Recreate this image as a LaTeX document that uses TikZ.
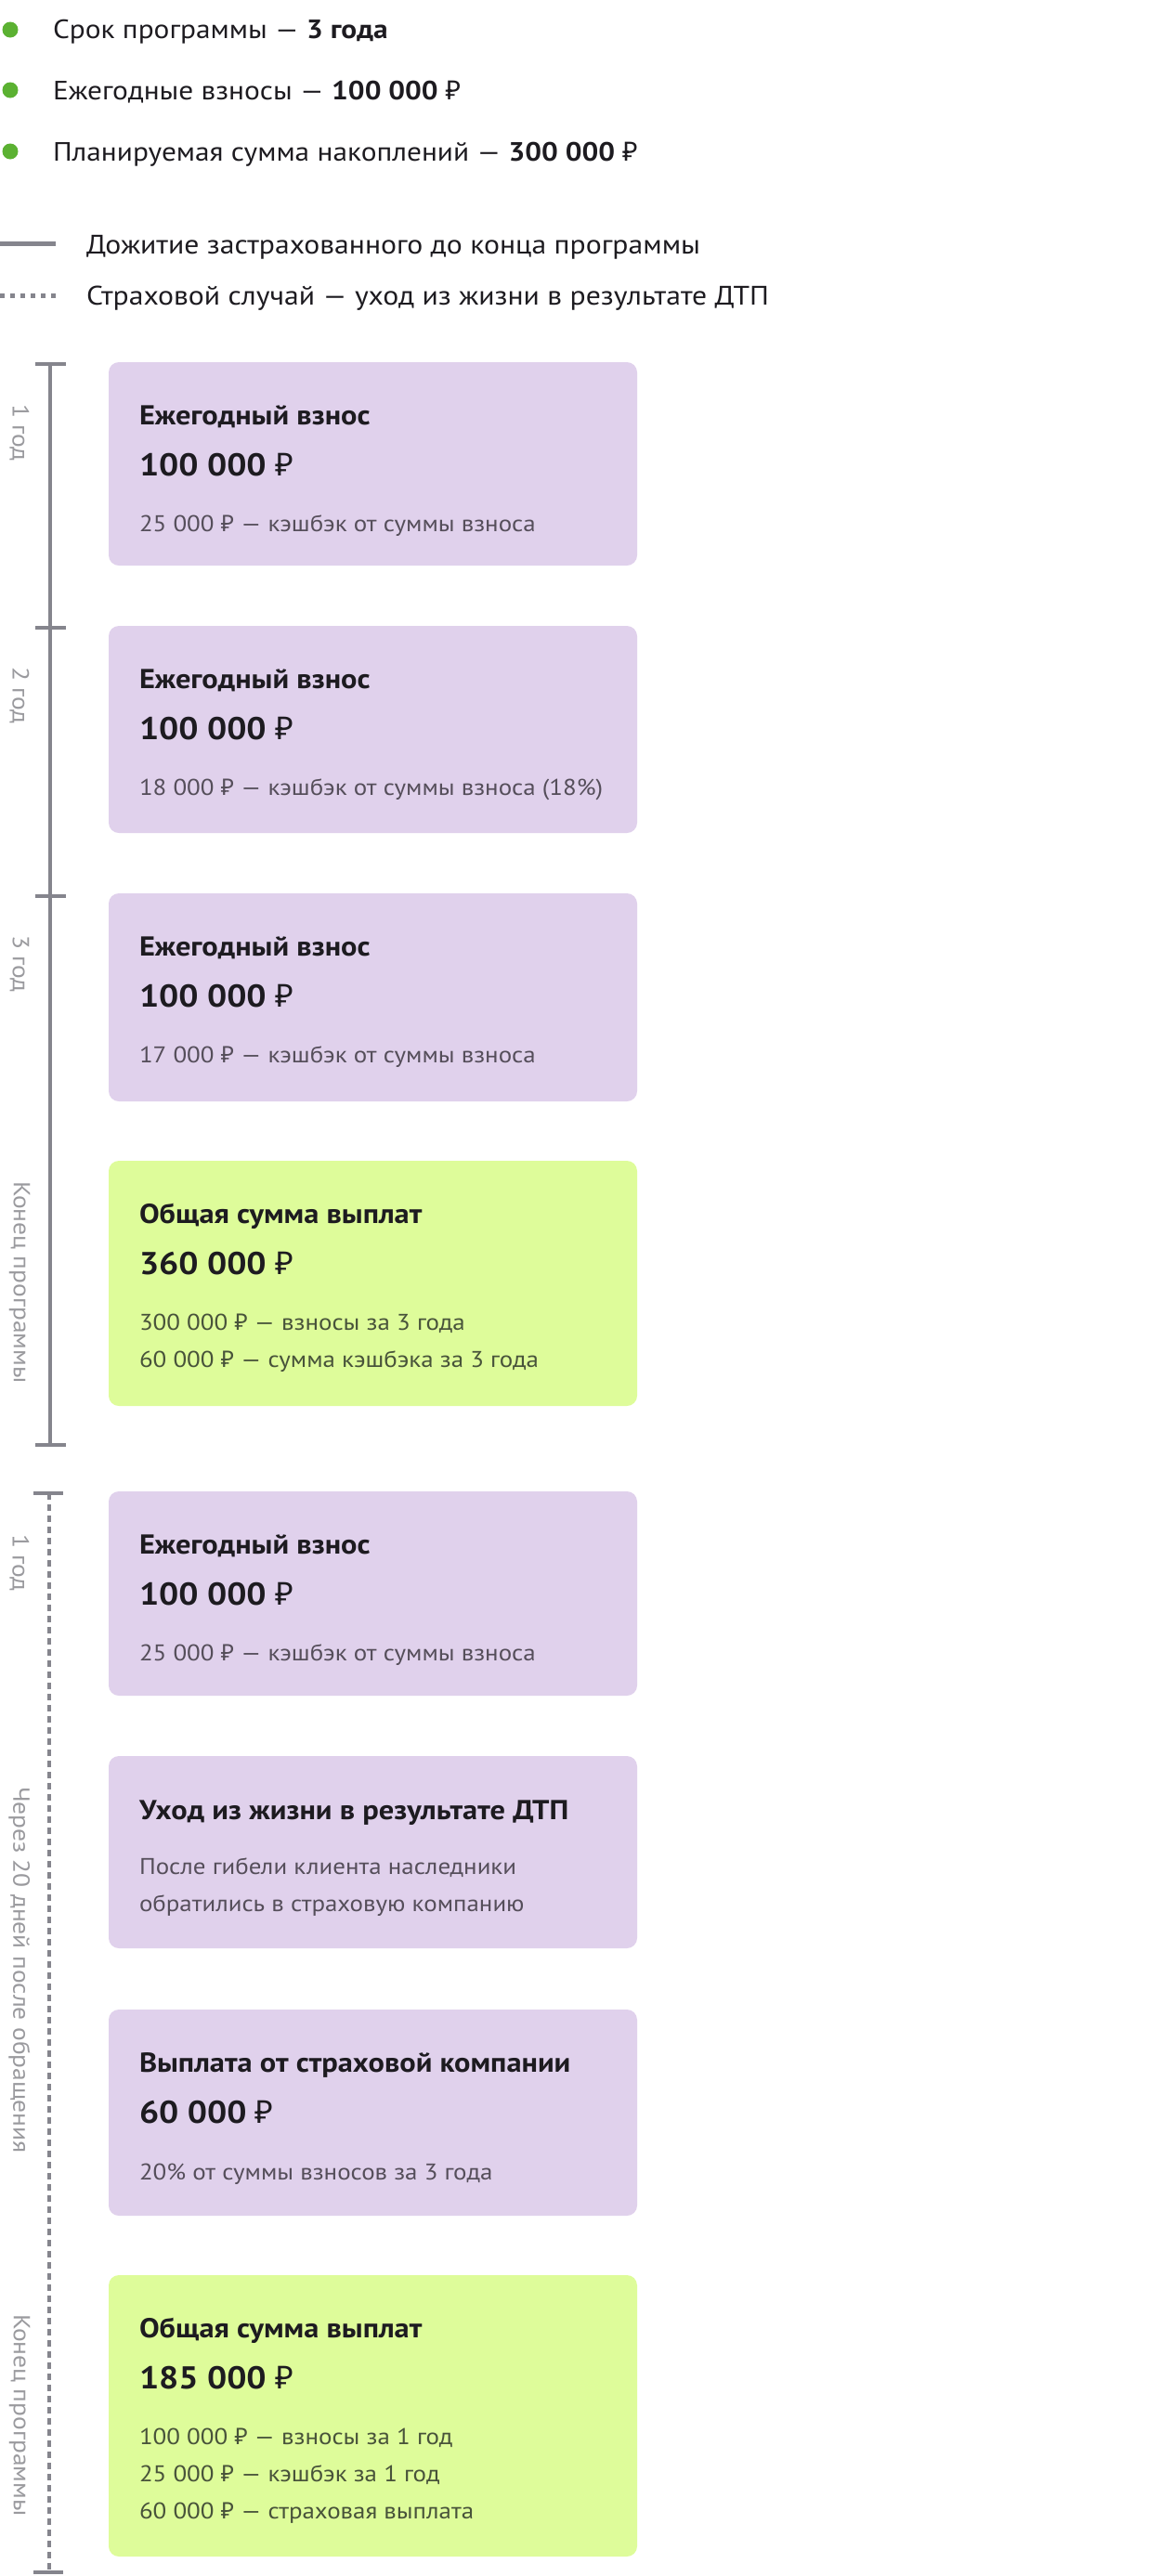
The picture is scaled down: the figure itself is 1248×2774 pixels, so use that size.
\documentclass[tikz,border=0pt]{standalone}
\usepackage{fontspec}
\setmainfont{PT Sans}[FakeStretch=1.1]
\newfontfamily\bfst{PT Sans Bold}[FakeStretch=1.1]
\newfontfamily\rubfont{Noto Sans}
\newcommand\rub{{\rubfont ₽}}
\newcommand\rubb{{\rubfont\bfseries ₽}}
\newcommand\bst[1]{{\bfst #1}}
\definecolor{purp}{HTML}{E0D1EC}
\definecolor{lime}{HTML}{DEFC9A}
\definecolor{txt}{HTML}{1D1B20}
\definecolor{descP}{HTML}{554E5A}
\definecolor{descG}{HTML}{48533A}
\definecolor{dotgreen}{HTML}{5BB132}
\definecolor{linegray}{HTML}{85858D}
\definecolor{yrgray}{HTML}{9A9A9E}
\tikzset{
  pbox/.style={rounded corners=11pt, fill=purp, draw=none, anchor=north west, minimum width=569pt},
  gbox/.style={rounded corners=11pt, fill=lime, draw=none, anchor=north west, minimum width=569pt},
  bul/.style={font=\fontsize{28.5}{34}\selectfont, text=txt, anchor=base west},
  leg/.style={font=\fontsize{28.8}{34}\selectfont, text=txt, anchor=base west},
  ttl/.style={font=\fontsize{29.5}{34}\selectfont\bfst, text=txt, anchor=base west},
  amt/.style={font=\fontsize{34}{40}\selectfont\bfst, text=txt, anchor=base west},
  dsc/.style={font=\fontsize{24.5}{30}\selectfont, text=descP, anchor=base west},
  dscg/.style={font=\fontsize{24.5}{30}\selectfont, text=descG, anchor=base west},
  yr/.style={font=\fontsize{25}{30}\selectfont, text=yrgray, rotate=-90, anchor=west},
  dot/.style={circle, fill=dotgreen, minimum size=17pt},
  tl/.style={draw=linegray, line width=4pt},
  tldash/.style={draw=linegray, line width=4pt, dash pattern=on 7pt off 5pt},
  legsolid/.style={draw=linegray, line width=5pt},
  legdash/.style={draw=linegray, line width=5pt, dash pattern=on 5pt off 6pt},
}
\begin{document}
\begin{tikzpicture}[x=1pt, y=-1pt, every node/.style={inner sep=0pt, outer sep=0pt}]
\useasboundingbox (0,0) rectangle (1248,2774);

% bullets
\node[dot] (d1) at (11,32) {};
\node[dot] (d2) at (11,97) {};
\node[dot] (d3) at (11,163) {};
\node[bul] (l1) at (57,41) {Срок программы — \bst{3 года}};
\node[bul] (l2) at (57,107) {Ежегодные взносы — \bst{100 000 \rubb}};
\node[bul] (l3) at (57,173) {Планируемая сумма накоплений — \bst{300 000 \rubb}};

% legend
\coordinate (lg1a) at (0,262);
\coordinate (lg1b) at (60,262);
\coordinate (lg2a) at (0,318);
\coordinate (lg2b) at (60,318);
\draw[legsolid] (lg1a) -- (lg1b);
\draw[legdash] (lg2a) -- (lg2b);
\node[leg] (lt1) at (93,273) {Дожитие застрахованного до конца программы};
\node[leg] (lt2) at (93,328) {Страховой случай — уход из жизни в результате ДТП};

% timeline 1
\coordinate (a0) at (54,392);
\coordinate (a1) at (54,676);
\coordinate (a2) at (54,965);
\coordinate (a3) at (54,1556);
\draw[tl] (a0) -- (a3);
\foreach \c in {a0,a1,a2,a3} {\draw[tl] ([xshift=-16pt]\c) -- ([xshift=17pt]\c);}
\node[yr] (y1) at (21,435) {1 год};
\node[yr] (y2) at (21,718) {2 год};
\node[yr] (y3) at (21,1007) {3 год};
\node[yr] (y4) at (21,1272) {Конец программы};

% timeline 2
\coordinate (c0) at (53,1608);
\coordinate (c1) at (53,2770);
\draw[tldash] (c0) -- (c1);
\draw[tl] ([xshift=-17pt]c0) -- ([xshift=15pt]c0);
\draw[tl] ([xshift=-17pt]c1) -- ([xshift=15pt]c1);
\node[yr] (z1) at (21,1652) {1 год};
\node[yr] (z2) at (21,1924) {Через 20 дней после обращения};
\node[yr] (z3) at (21,2492) {Конец программы};

% box 1
\node[pbox, minimum height=219pt] (b1) at (117,390) {};
\node[ttl] (b1t) at (150,457) {Ежегодный взнос};
\node[amt] (b1a) at (150,512) {100 000 \rubb};
\node[dsc] (b1d) at (150,572) {25 000 \rub{} — кэшбэк от суммы взноса};

% box 2
\node[pbox, minimum height=223pt] (b2) at (117,674) {};
\node[ttl] (b2t) at (150,741) {Ежегодный взнос};
\node[amt] (b2a) at (150,796) {100 000 \rubb};
\node[dsc] (b2d) at (150,856) {18 000 \rub{} — кэшбэк от суммы взноса (18\%)};

% box 3
\node[pbox, minimum height=224pt] (b3) at (117,962) {};
\node[ttl] (b3t) at (150,1029) {Ежегодный взнос};
\node[amt] (b3a) at (150,1084) {100 000 \rubb};
\node[dsc] (b3d) at (150,1144) {17 000 \rub{} — кэшбэк от суммы взноса};

% box 4
\node[gbox, minimum height=264pt] (b4) at (117,1250) {};
\node[ttl] (b4t) at (150,1317) {Общая сумма выплат};
\node[amt] (b4a) at (150,1372) {360 000 \rubb};
\node[dscg] (b4d1) at (150,1432) {300 000 \rub{} — взносы за 3 года};
\node[dscg] (b4d2) at (150,1472) {60 000 \rub{} — сумма кэшбэка за 3 года};

% box 5
\node[pbox, minimum height=220pt] (b5) at (117,1606) {};
\node[ttl] (b5t) at (150,1673) {Ежегодный взнос};
\node[amt] (b5a) at (150,1728) {100 000 \rubb};
\node[dsc] (b5d) at (150,1788) {25 000 \rub{} — кэшбэк от суммы взноса};

% box 6
\node[pbox, minimum height=207pt] (b6) at (117,1891) {};
\node[ttl] (b6t) at (150,1959) {Уход из жизни в результате ДТП};
\node[dsc] (b6d1) at (150,2018) {После гибели клиента наследники};
\node[dsc] (b6d2) at (150,2058) {обратились в страховую компанию};

% box 7
\node[pbox, minimum height=222pt] (b7) at (117,2164) {};
\node[ttl] (b7t) at (150,2231) {Выплата от страховой компании};
\node[amt] (b7a) at (150,2286) {60 000 \rubb};
\node[dsc] (b7d) at (150,2347) {20\% от суммы взносов за 3 года};

% box 8
\node[gbox, minimum height=303pt] (b8) at (117,2450) {};
\node[ttl] (b8t) at (150,2517) {Общая сумма выплат};
\node[amt] (b8a) at (150,2572) {185 000 \rubb};
\node[dscg] (b8d1) at (150,2632) {100 000 \rub{} — взносы за 1 год};
\node[dscg] (b8d2) at (150,2672) {25 000 \rub{} — кэшбэк за 1 год};
\node[dscg] (b8d3) at (150,2712) {60 000 \rub{} — страховая выплата};
\end{tikzpicture}
\end{document}
